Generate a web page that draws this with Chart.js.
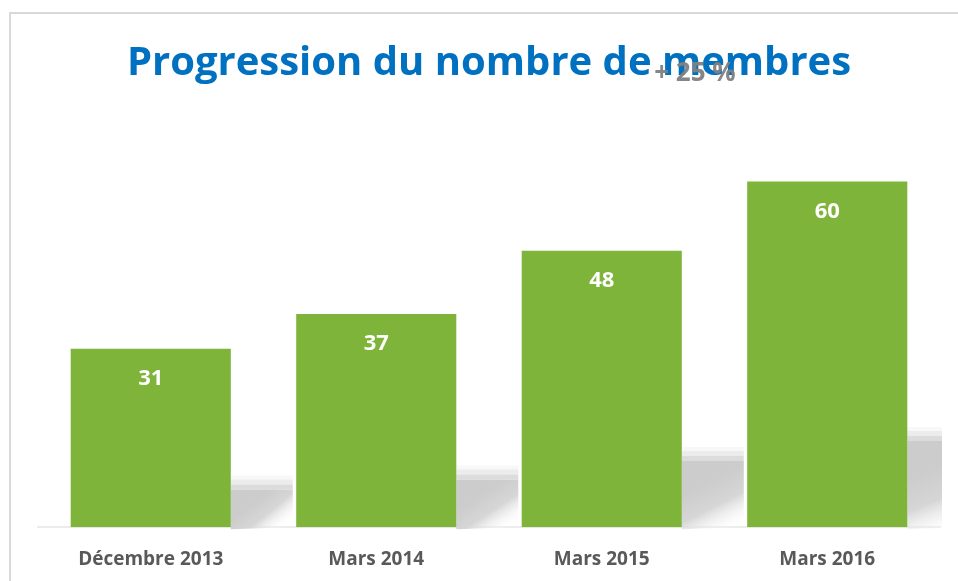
<!DOCTYPE html>
<html>
<head>
<meta charset="utf-8">
<script src="https://cdn.jsdelivr.net/npm/chart.js@4"></script>
<style>
    html, body { margin: 0; padding: 0; background: #fff; }
    #wrap { width: 958px; height: 581px; }
</style>
</head>
<body>
<div id="wrap"><canvas id="membresChart" width="958" height="581"></canvas></div>
<script>
const categories = ['Décembre 2013', 'Mars 2014', 'Mars 2015', 'Mars 2016'];
const membres = [31, 37, 48, 60];
const chartTitle = 'Progression du nombre de membres';
const growthLabel = '+ 25 %';

const GREEN = '#7FB43A';
const BLUE = '#0070C0';
const GREY_TEXT = '#595959';
const FONT = '"Open Sans", "Liberation Sans", sans-serif';

// frame, title and the "+ 25 %" note
const decorPlugin = {
    id: 'decor',
    beforeDraw(chart) {
        const ctx = chart.ctx;
        ctx.save();
        ctx.strokeStyle = '#d9d9d9';
        ctx.lineWidth = 2;
        ctx.strokeRect(10, 13, chart.width + 20, chart.height + 20);
        ctx.restore();
    },
    afterDraw(chart) {
        const ctx = chart.ctx;
        ctx.save();
        ctx.textBaseline = 'middle';
        ctx.textAlign = 'center';
        ctx.fillStyle = BLUE;
        ctx.font = 'bold 38px ' + FONT;
        let w = ctx.measureText(chartTitle).width;
        const size = Math.round(38 * 722 / w);
        ctx.font = 'bold ' + size + 'px ' + FONT;
        ctx.fillText(chartTitle, 489, 64);

        ctx.fillStyle = 'rgba(128,128,128,0.95)';
        ctx.font = 'bold 26px ' + FONT;
        ctx.fillText(growthLabel, 695, 74);
        ctx.restore();
    }
};

// soft grey shadow to the right of each bar, and value labels
const barExtras = {
    id: 'barExtras',
    beforeDatasetsDraw(chart) {
        const ctx = chart.ctx;
        const meta = chart.getDatasetMeta(0);
        const area = chart.chartArea;
        ctx.save();
        ctx.beginPath();
        ctx.rect(0, 0, area.right + 2, chart.height);
        ctx.clip();
        meta.data.forEach(bar => {
            const right = bar.x + bar.width / 2;
            const base = bar.base;
            const h = (base - bar.y) * 0.29;
            const top = base - h;
            const len = 62;
            ctx.fillStyle = 'rgba(248,248,248,1)';
            ctx.fillRect(right, top, len, 4);
            ctx.fillStyle = 'rgba(236,236,236,1)';
            ctx.fillRect(right, top + 4, len, 5);
            ctx.fillStyle = 'rgba(220,220,220,1)';
            ctx.fillRect(right, top + 9, len, 5);
            const y0 = top + 14;
            const grad = ctx.createLinearGradient(right + len * 0.35, y0 + (base - y0) * 0.35,
                right + len * 0.75, base + 6);
            grad.addColorStop(0, 'rgba(204,204,204,1)');
            grad.addColorStop(0.45, 'rgba(214,214,214,1)');
            grad.addColorStop(1, 'rgba(255,255,255,0)');
            ctx.fillStyle = grad;
            ctx.beginPath();
            ctx.moveTo(right, y0);
            ctx.lineTo(right + len, y0);
            ctx.lineTo(right + len, base);
            ctx.lineTo(right, base + 2);
            ctx.closePath();
            ctx.fill();
        });
        ctx.restore();
    },
    afterDatasetsDraw(chart) {
        const ctx = chart.ctx;
        const meta = chart.getDatasetMeta(0);
        ctx.save();
        ctx.fillStyle = '#ffffff';
        ctx.font = 'bold 22px ' + FONT;
        ctx.textAlign = 'center';
        ctx.textBaseline = 'middle';
        meta.data.forEach((bar, i) => {
            ctx.fillText(String(membres[i]), bar.x, bar.y + 30);
        });
        ctx.restore();
    }
};

new Chart(document.getElementById('membresChart'), {
    type: 'bar',
    data: {
        labels: categories,
        datasets: [{
            data: membres,
            backgroundColor: GREEN,
            borderWidth: 0,
            categoryPercentage: 1,
            barPercentage: 0.71
        }]
    },
    options: {
        responsive: false,
        animation: false,
        layout: {
            padding: { left: 38, right: 18, top: 124, bottom: -11 }
        },
        plugins: {
            legend: { display: false },
            tooltip: { enabled: false },
            title: { display: false }
        },
        scales: {
            x: {
                grid: { display: false, drawTicks: false },
                border: { display: true, color: '#ececec', width: 2 },
                ticks: {
                    color: GREY_TEXT,
                    padding: 21,
                    font: { family: FONT, size: 19, weight: 'bold' }
                }
            },
            y: {
                display: false,
                min: 0,
                max: 70
            }
        }
    },
    plugins: [decorPlugin, barExtras]
});
</script>
</body>
</html>
